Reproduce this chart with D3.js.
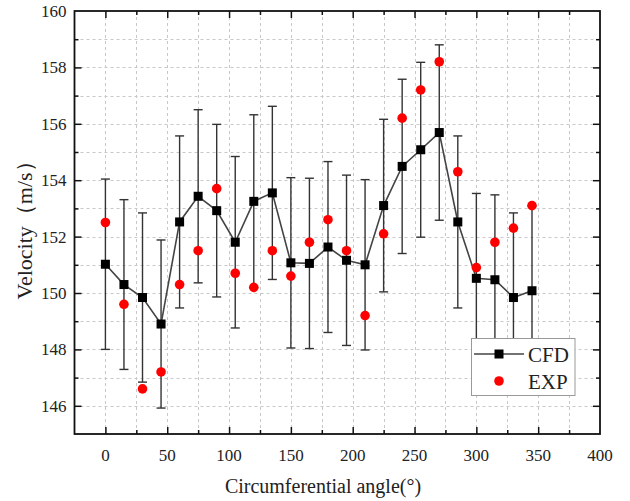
<!DOCTYPE html>
<html>
<head>
<meta charset="utf-8">
<script src="https://cdn.jsdelivr.net/npm/d3@7"></script>
<style>
  body { margin: 0; background: #fff; }
  svg { display: block; }
</style>
</head>
<body>
<svg id="chart" width="630" height="501"></svg>
<script>
// ---- data ----
const angles = [0, 15, 30, 45, 60, 75, 90, 105, 120, 135, 150, 165, 180, 195, 210, 225, 240, 255, 270, 285, 300, 315, 330, 345];
const cfdValues = [151.02, 150.30, 149.84, 148.90, 152.52, 153.43, 152.92, 151.80, 153.25, 153.55, 151.07, 151.05, 151.63, 151.16, 151.00, 153.10, 154.49, 155.08, 155.69, 152.52, 150.52, 150.47, 149.84, 150.08];
const cfdErrors = [3.02, 3.01, 3.00, 2.98, 3.05, 3.07, 3.06, 3.04, 3.07, 3.07, 3.02, 3.02, 3.03, 3.02, 3.02, 3.06, 3.09, 3.10, 3.11, 3.05, 3.01, 3.01, 3.00, 3.00];
const expValues = [152.5, 149.6, 146.6, 147.2, 150.3, 151.5, 153.7, 150.7, 150.2, 151.5, 150.6, 151.8, 152.6, 151.5, 149.2, 152.1, 156.2, 157.2, 158.2, 154.3, 150.9, 151.8, 152.3, 153.1];
const xTickValues = [0, 50, 100, 150, 200, 250, 300, 350, 400];
const yTickValues = [146, 148, 150, 152, 154, 156, 158, 160];
const seriesNames = ["CFD", "EXP"];
const xTitle = "Circumferential angle(°)";
const yTitle = "Velocity（m/s）";

// ---- layout ----
const FONT = "'Liberation Serif', 'Times New Roman', Tinos, 'DejaVu Serif', serif";
const L = 74.5, R = 600, T = 11, B = 434;
const svg = d3.select("#chart").attr("font-family", FONT);
const x = d3.scaleLinear().domain([-25, 400]).range([L, R]);
const y = d3.scaleLinear().domain([145, 160]).range([B, T]);

// grid
const xGrid = d3.range(0, 400, 25);
const yGrid = d3.range(146, 160, 1);
const grid = svg.append("g").attr("stroke", "#c8c8c8").attr("stroke-width", 1).attr("stroke-dasharray", "3,3");
grid.selectAll("line.gx").data(xGrid).join("line").attr("class", "gx")
  .attr("x1", d => Math.round(x(d)) + 0.5).attr("x2", d => Math.round(x(d)) + 0.5)
  .attr("y1", T).attr("y2", B);
grid.selectAll("line.gy").data(yGrid).join("line").attr("class", "gy")
  .attr("y1", d => Math.round(y(d)) + 0.5).attr("y2", d => Math.round(y(d)) + 0.5)
  .attr("x1", L).attr("x2", R);

// axes with inward ticks
const xMinor = d3.range(25, 400, 50);
const yMinor = d3.range(147, 160, 2);
function tickAxis(axisFn, scale, vals, size) {
  return axisFn(scale).tickValues(vals).tickSize(size).tickFormat("");
}
const axG = svg.append("g");
axG.append("g").attr("transform", `translate(0,${B})`).call(tickAxis(d3.axisTop, x, xTickValues.slice(0, 8), 7));
axG.append("g").attr("transform", `translate(0,${B})`).call(tickAxis(d3.axisTop, x, xMinor, 4));
axG.append("g").attr("transform", `translate(0,${T})`).call(tickAxis(d3.axisBottom, x, xTickValues.slice(0, 8), 7));
axG.append("g").attr("transform", `translate(0,${T})`).call(tickAxis(d3.axisBottom, x, xMinor, 4));
axG.append("g").attr("transform", `translate(${L},0)`).call(tickAxis(d3.axisRight, y, yTickValues.slice(0, 7), 7));
axG.append("g").attr("transform", `translate(${L},0)`).call(tickAxis(d3.axisRight, y, yMinor, 4));
axG.append("g").attr("transform", `translate(${R},0)`).call(tickAxis(d3.axisLeft, y, yTickValues.slice(0, 7), 7));
axG.append("g").attr("transform", `translate(${R},0)`).call(tickAxis(d3.axisLeft, y, yMinor, 4));
axG.selectAll(".domain").remove();
axG.selectAll(".tick line").attr("stroke", "#111").attr("stroke-width", 1.5);

// frame
svg.append("rect").attr("x", L).attr("y", T).attr("width", R - L).attr("height", B - T)
  .attr("fill", "none").attr("stroke", "#111").attr("stroke-width", 1.8);

// tick labels
svg.append("g").attr("fill", "#222").selectAll("text").data(xTickValues).join("text")
  .attr("font-family", FONT)
  .attr("x", d => x(d)).attr("y", B + 27).attr("text-anchor", "middle")
  .attr("font-size", 17).text(d => d);
svg.append("g").attr("fill", "#222").selectAll("text").data(yTickValues).join("text")
  .attr("font-family", FONT)
  .attr("x", L - 8).attr("y", d => y(d) + 6).attr("text-anchor", "end")
  .attr("font-size", 17).text(d => d);

// axis titles
svg.append("text").attr("font-family", FONT).attr("fill", "#222")
  .attr("x", 323).attr("y", 493).attr("text-anchor", "middle")
  .attr("font-size", 20).text(xTitle);
svg.append("text").attr("font-family", FONT).attr("fill", "#222")
  .attr("transform", "translate(32,225) rotate(-90)").attr("text-anchor", "middle")
  .attr("font-size", 22).text(yTitle);

// data
const data = angles.map((a, i) => ({ a, c: cfdValues[i], e: cfdErrors[i], x: expValues[i] }));

// error bars
const eb = svg.append("g").attr("stroke", "#333").attr("stroke-width", 1.4);
eb.selectAll("line.v").data(data).join("line").attr("class", "v")
  .attr("x1", d => x(d.a)).attr("x2", d => x(d.a))
  .attr("y1", d => y(d.c - d.e)).attr("y2", d => y(d.c + d.e));
eb.selectAll("line.t").data(data).join("line").attr("class", "t")
  .attr("x1", d => x(d.a) - 4.5).attr("x2", d => x(d.a) + 4.5)
  .attr("y1", d => y(d.c + d.e)).attr("y2", d => y(d.c + d.e));
eb.selectAll("line.b").data(data).join("line").attr("class", "b")
  .attr("x1", d => x(d.a) - 4.5).attr("x2", d => x(d.a) + 4.5)
  .attr("y1", d => y(d.c - d.e)).attr("y2", d => y(d.c - d.e));

// CFD line
svg.append("path").datum(data)
  .attr("d", d3.line().x(d => x(d.a)).y(d => y(d.c)))
  .attr("fill", "none").attr("stroke", "#444").attr("stroke-width", 1.6);

// squares
const sq = 9;
svg.append("g").selectAll("rect").data(data).join("rect")
  .attr("x", d => x(d.a) - sq / 2).attr("y", d => y(d.c) - sq / 2)
  .attr("width", sq).attr("height", sq).attr("fill", "#000");

// EXP points
svg.append("g").selectAll("circle").data(data).join("circle")
  .attr("cx", d => x(d.a)).attr("cy", d => y(d.x)).attr("r", 4.8).attr("fill", "#ff0000");

// legend
const lg = svg.append("g");
lg.append("rect").attr("x", 471.5).attr("y", 338.5).attr("width", 103.5).attr("height", 57)
  .attr("fill", "#fff").attr("stroke", "#999").attr("stroke-width", 1);
lg.append("line").attr("x1", 474).attr("x2", 524).attr("y1", 354).attr("y2", 354)
  .attr("stroke", "#444").attr("stroke-width", 1.6);
lg.append("rect").attr("x", 499 - sq / 2).attr("y", 354 - sq / 2).attr("width", sq).attr("height", sq).attr("fill", "#000");
lg.append("circle").attr("cx", 499).attr("cy", 381).attr("r", 4.8).attr("fill", "#ff0000");
lg.append("text").attr("font-family", FONT).attr("fill", "#222").attr("x", 528).attr("y", 361.5).attr("font-size", 21).text(seriesNames[0]);
lg.append("text").attr("font-family", FONT).attr("fill", "#222").attr("x", 528).attr("y", 389).attr("font-size", 21).text(seriesNames[1]);
</script>
</body>
</html>
